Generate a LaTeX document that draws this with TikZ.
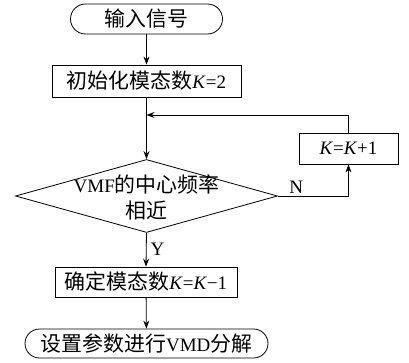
\documentclass[tikz,border=0pt]{standalone}
\usepackage{fontspec}
\setmainfont{Liberation Serif}
\newfontfamily\cjk[Scale=1.1]{Noto Sans CJK SC}
\usetikzlibrary{arrows.meta,shapes.geometric,calc}
\begin{document}
\begin{tikzpicture}[x=1pt,y=1pt,
  every node/.style={font=\fontsize{19}{22}\selectfont},
  boxnode/.style={draw,line width=0.8pt,inner sep=0pt,anchor=center},
  arr/.style={line width=0.8pt,-{Stealth[length=8pt,width=6pt]}},
  ln/.style={line width=0.8pt}]
\useasboundingbox (0,0) rectangle (409,-363);
\node[boxnode,minimum width=152pt,minimum height=30pt,rounded corners=15pt] (start) at (146.5,-19) {\cjk 输入信号};
\node[boxnode,minimum width=189pt,minimum height=32pt] (init) at (146.5,-81) {{\cjk 初始化模态数}\textit{K}=2};
\node[boxnode,diamond,minimum width=262pt,minimum height=73pt] (dec) at (146.5,-196) {};
\node[align=center,inner sep=0pt,font=\fontsize{19}{26}\selectfont] (dtext) at (146.5,-197) {VMF{\cjk 的中心频率}\\{\cjk 相近}};
\node[boxnode,minimum width=99pt,minimum height=31pt] (inc) at (348.5,-148.5) {\textit{K}=\textit{K}+1};
\node[boxnode,minimum width=182pt,minimum height=30pt] (fix) at (146,-282) {{\cjk 确定模态数}\textit{K}=\textit{K}\char"2212 1};
\node[boxnode,minimum width=243pt,minimum height=29pt,rounded corners=14.5pt] (end) at (146.5,-343.5) {{\cjk 设置参数进行}VMD{\cjk 分解}};
\coordinate (join) at (146.5,-115);
\draw[arr] (start) -- (init);
\draw[arr] (init) -- (dec.north);
\draw[arr] (inc.north) |- (join);
\draw[arr] (dec.east) -| (inc.south) node[pos=0.13,above,inner sep=2pt] (nlab) {N};
\draw[arr] (dec.south) -- (fix.north) node[midway,right,inner sep=4pt] (ylab) {Y};
\draw[arr] (fix) -- (end);
\end{tikzpicture}
\end{document}
